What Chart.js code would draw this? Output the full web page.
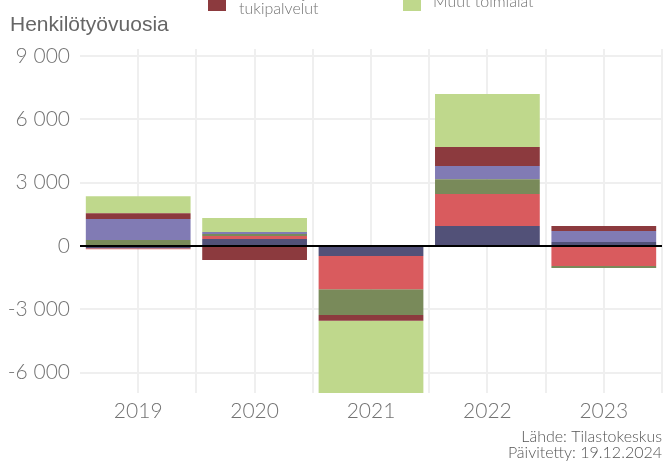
<!DOCTYPE html>
<html>
<head>
<meta charset="utf-8">
<script src="https://cdn.jsdelivr.net/npm/chart.js@4/dist/chart.umd.min.js"></script>
<style>
html,body{margin:0;padding:0;background:#fff;}
#wrap{width:664px;height:461px;position:relative;}
</style>
</head>
<body>
<div id="wrap"><canvas id="c" width="664" height="461"></canvas></div>
<script>
const categories = ['2019', '2020', '2021', '2022', '2023'];
const seriesNames = ['Teollisuus', 'Rakentaminen', 'Kauppa', 'Informaatio ja viestintä', 'Hallinto- ja tukipalvelut', 'Muut toimialat'];
const navyValues = [-110, 330, -475, 946, 190];
const redValues = [-50, 140, -1575, 1514, -946];
const oliveValues = [280, 95, -1215, 694, -95];
const purpleValues = [990, 95, 0, 630, 520];
const darkRedValues = [280, -660, -270, 899, 237];
const lightGreenValues = [800, 660, -3600, 2508, 0];
const yTickValues = [-6000, -3000, 0, 3000, 6000, 9000];
const colors = ['#525178', '#d95b5e', '#798a5a', '#817bb4', '#8c3a3e', '#bfd88c'];
const allValues = [navyValues, redValues, oliveValues, purpleValues, darkRedValues, lightGreenValues];

const TEXT = '#737373';
const FONT = 'Lato, "Open Sans", sans-serif';

function fmt(v) {
  const s = Math.abs(v).toString().replace(/\B(?=(\d{3})+(?!\d))/g, ' ');
  return (v < 0 ? '-' : '') + s;
}

const overlay = {
  id: 'overlay',
  afterDatasetsDraw(chart) {
    const {ctx, chartArea} = chart;
    const y0 = chart.scales.y.getPixelForValue(0);
    ctx.save();
    ctx.strokeStyle = '#000';
    ctx.lineWidth = 2;
    ctx.beginPath();
    ctx.moveTo(chartArea.left, y0);
    ctx.lineTo(chartArea.right, y0);
    ctx.stroke();
    ctx.restore();
  },
  afterDraw(chart) {
    const ctx = chart.ctx;
    ctx.save();
    // y-axis title
    ctx.fillStyle = '#666';
    ctx.font = '21px "Liberation Sans Narrow", "Liberation Sans", sans-serif';
    ctx.textBaseline = 'alphabetic';
    ctx.textAlign = 'left';
    ctx.fillText('Henkilötyövuosia', 10, 31);
    // legend fragments (legend mostly cut off at the top)
    ctx.fillStyle = colors[4];
    ctx.fillRect(208, -7, 18, 18);
    ctx.fillStyle = colors[5];
    ctx.fillRect(403, -7, 18, 18);
    ctx.fillStyle = TEXT;
    ctx.font = '300 16px ' + FONT;
    ctx.fillText('Hallinto- ja', 239, -2);
    ctx.fillText('tukipalvelut', 239, 14);
    ctx.fillText(seriesNames[5], 433, 7);
    // source
    ctx.textAlign = 'right';
    ctx.font = '300 16px ' + FONT;
    ctx.fillStyle = '#555';
    ctx.fillText('Lähde: Tilastokeskus', 662, 442);
    ctx.fillText('Päivitetty: 19.12.2024', 662, 458);
    ctx.restore();
  }
};

new Chart(document.getElementById('c'), {
  type: 'bar',
  data: {
    labels: categories,
    datasets: allValues.map((vals, i) => ({
      label: seriesNames[i],
      data: vals,
      backgroundColor: colors[i],
      borderWidth: 0,
      categoryPercentage: 1,
      barPercentage: 0.9
    }))
  },
  options: {
    responsive: false,
    animation: false,
    layout: {padding: {left: 0, right: 2, top: 49, bottom: 0}},
    plugins: {legend: {display: false}, tooltip: {enabled: false}, title: {display: false}},
    scales: {
      x: {
        stacked: true,
        offset: true,
        border: {display: false},
        grid: {
          offset: true,
          drawTicks: false,
          lineWidth: 2,
          color: (c) => c.index === 0 ? 'rgba(0,0,0,0)' : '#efefef'
        },
        ticks: {color: TEXT, font: {family: FONT, size: 21, weight: 300}, padding: 6, maxRotation: 0},
        afterFit: (s) => { s.height = 68; }
      },
      x2: {
        type: 'category',
        labels: categories,
        offset: true,
        position: 'bottom',
        display: true,
        border: {display: false},
        grid: {offset: false, drawTicks: false, lineWidth: 2, color: '#efefef'},
        ticks: {display: false},
        afterFit: (s) => { s.height = 0; }
      },
      y: {
        stacked: true,
        min: -6960,
        max: 9320,
        border: {display: false},
        grid: {drawTicks: false, lineWidth: 2, color: '#efefef'},
        ticks: {color: TEXT, font: {family: FONT, size: 21, weight: 300}, padding: 10, callback: (v) => fmt(v)},
        afterBuildTicks: (s) => { s.ticks = yTickValues.map(v => ({value: v})); },
        afterFit: (s) => { s.width = 80; }
      }
    }
  },
  plugins: [overlay]
});
</script>
</body>
</html>
